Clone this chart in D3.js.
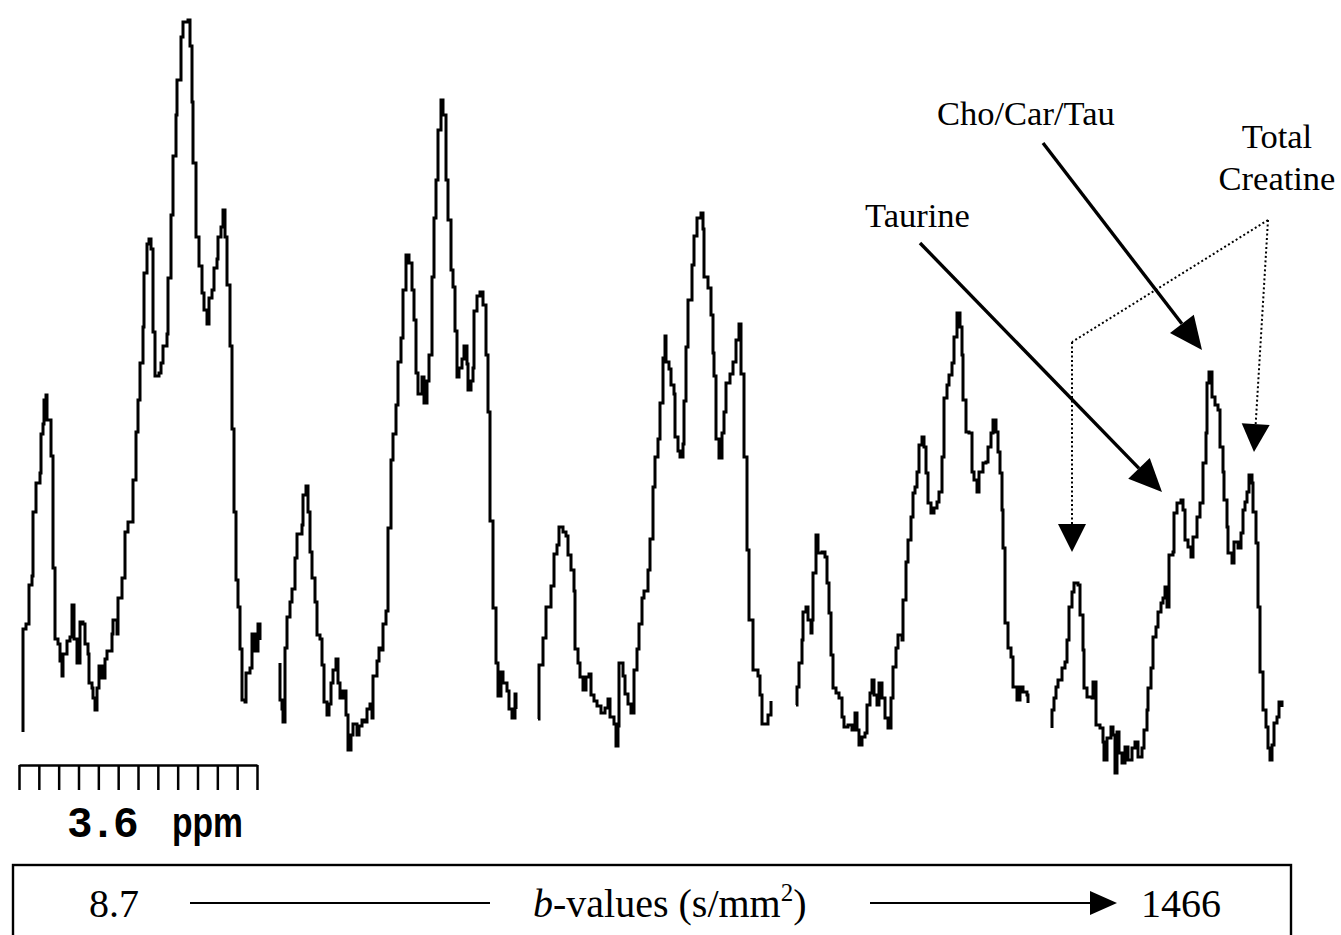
<!DOCTYPE html>
<html>
<head>
<meta charset="utf-8">
<script src="https://cdn.jsdelivr.net/npm/d3@7"></script>
<style>
body { margin: 0; background: #fff; }
svg { display: block; }
.spec { fill: none; stroke: #000; stroke-width: 3; }
.lbl { font-family: "Liberation Serif", "Times New Roman", serif; font-size: 34.5px; fill: #000; }
.box { font-family: "Liberation Serif", "Times New Roman", serif; font-size: 40px; fill: #000; }
.ppm { font-family: "Liberation Sans", Arial, sans-serif; font-weight: bold; font-size: 43px; fill: #000; }
.scale path, .scale line { stroke: #000; stroke-width: 2.5; }
</style>
</head>
<body>
<svg width="1341" height="935"></svg>
<script>
// five spectra, b = 8.7 ... 1466 s/mm2
var spectra = [ "b1", "b2", "b3", "b4", "b5" ];
var bLabels = [ "8.7", "1466" ];
var ppmTicks = [ 0, 1, 2, 3, 4, 5, 6, 7, 8, 9, 10, 11, 12 ];

// [point, intensity]
var spec1 = [ [0,48],[0,151],[3,156],[6,195],[9,204],[10,268],[13,297],[17,307],[18,346],[20,356],[21,380],[23,385],[24,360],[28,324],[30,212],[32,141],[35,136],[37,119],[39,104],[40,126],[44,139],[47,143],[49,175],[51,141],[54,117],[57,158],[60,156],[62,136],[65,126],[66,97],[69,92],[70,82],[72,70],[74,92],[76,114],[79,102],[82,121],[84,129],[89,146],[90,160],[94,146],[95,182],[99,202],[102,248],[105,258],[110,300],[113,348],[115,380],[117,417],[120,453],[121,507],[124,536],[126,541],[128,531],[130,524],[130,448],[132,404],[136,407],[138,417],[140,434],[144,446],[145,502],[148,565],[150,624],[153,665],[154,700],[158,743],[160,758],[165,760],[167,734],[169,678],[170,617],[173,543],[176,514],[179,487],[181,470],[184,456],[186,482],[189,490],[191,512],[194,521],[195,543],[198,553],[200,570],[202,543],[204,495],[207,434],[209,351],[211,268],[213,200],[215,173],[217,131],[219,80],[222,78],[223,107],[227,112],[229,146],[232,129],[235,156],[237,140] ];
var spec2 = [ [0,117],[0,80],[2,71],[3,58],[5,132],[7,163],[10,178],[12,191],[15,222],[17,246],[22,255],[23,285],[26,294],[28,268],[30,228],[32,202],[35,178],[37,145],[40,141],[42,115],[44,78],[47,65],[49,76],[51,97],[53,110],[56,121],[58,97],[60,82],[63,89],[66,65],[68,30],[71,45],[73,56],[77,45],[79,54],[82,60],[85,58],[87,71],[90,76],[92,62],[93,104],[97,119],[99,132],[102,130],[103,156],[106,169],[108,252],[111,320],[113,346],[116,375],[118,418],[121,442],[123,490],[126,525],[129,517],[132,490],[134,460],[136,407],[138,386],[142,403],[144,377],[147,399],[149,425],[152,503],[154,562],[156,600],[158,650],[161,680],[163,665],[166,600],[168,560],[171,510],[173,493],[175,449],[177,403],[179,412],[182,421],[184,434],[187,416],[188,390],[191,399],[193,412],[194,469],[197,484],[200,488],[203,475],[206,425],[208,368],[210,259],[213,172],[216,117],[218,84],[221,108],[223,97],[227,89],[229,71],[232,62],[235,86],[236,71] ];
var spec3 = [ [0,61],[1,115],[5,142],[8,173],[13,194],[16,226],[19,235],[21,253],[25,248],[28,244],[30,225],[33,210],[36,189],[37,131],[40,117],[42,103],[45,90],[48,103],[51,106],[53,85],[56,79],[59,74],[63,67],[67,72],[70,81],[72,63],[76,56],[78,34],[80,54],[81,117],[85,104],[87,86],[90,76],[93,67],[96,110],[99,131],[101,156],[104,182],[106,189],[110,210],[112,241],[115,293],[117,323],[120,341],[122,377],[125,422],[127,444],[128,418],[131,411],[133,395],[136,386],[137,343],[140,329],[142,323],[145,336],[146,379],[148,433],[150,480],[154,515],[156,544],[159,562],[163,567],[165,551],[166,503],[170,492],[173,465],[175,427],[176,404],[178,341],[181,322],[184,347],[186,368],[188,397],[192,406],[195,418],[198,440],[201,456],[203,406],[206,323],[209,230],[211,160],[215,110],[220,104],[222,85],[224,56],[228,56],[230,65],[233,79] ];
var spec4 = [ [1,75],[2,93],[4,117],[7,140],[8,168],[11,173],[13,160],[16,147],[17,160],[18,207],[21,245],[23,227],[27,228],[30,223],[32,197],[34,167],[36,125],[38,92],[41,87],[44,82],[47,63],[49,53],[53,55],[57,50],[60,67],[62,50],[64,35],[67,43],[70,47],[72,75],[75,87],[77,100],[79,85],[82,75],[84,97],[87,82],[90,62],[93,52],[96,82],[98,113],[101,132],[103,145],[107,140],[108,180],[111,218],[113,240],[116,263],[118,287],[120,293],[122,308],[124,335],[127,343],[129,333],[131,307],[133,277],[136,267],[139,272],[142,278],[144,288],[147,323],[149,382],[152,395],[154,405],[157,417],[159,443],[162,467],[165,453],[167,425],[168,380],[171,348],[174,347],[177,308],[179,300],[182,288],[184,308],[188,317],[191,318],[193,333],[196,347],[198,360],[201,348],[203,328],[205,307],[207,270],[208,232],[210,157],[213,132],[216,123],[218,93],[222,80],[225,93],[228,88],[232,85],[233,77] ];
var spec5 = [ [0,52],[0,70],[2,82],[4,93],[6,100],[10,112],[13,118],[15,140],[17,173],[20,188],[22,197],[26,195],[28,165],[31,130],[32,92],[35,83],[40,82],[41,98],[44,55],[48,52],[51,38],[52,20],[55,42],[59,53],[61,45],[63,7],[65,48],[67,27],[70,17],[73,33],[76,20],[80,32],[83,38],[86,23],[90,32],[92,50],[95,70],[96,92],[99,112],[101,143],[104,153],[106,168],[109,177],[111,182],[113,193],[115,173],[117,225],[121,228],[122,267],[125,277],[129,280],[131,270],[133,240],[136,233],[139,223],[141,243],[145,263],[148,277],[151,283],[151,317],[154,347],[155,397],[157,408],[160,383],[163,375],[166,370],[168,333],[171,308],[172,280],[175,253],[176,227],[180,217],[182,238],[186,232],[189,247],[191,270],[193,278],[195,288],[197,305],[200,297],[201,268],[204,237],[206,173],[208,108],[211,70],[214,53],[216,32],[218,20],[220,35],[222,57],[225,63],[227,78],[230,73] ];
var data = [ spec1, spec2, spec3, spec4, spec5 ];

var svg = d3.select("svg");
var xPos = d3.scalePoint().domain(spectra).range([ 23, 1052 ]);
var xLocal = d3.scaleLinear().domain([ 0, 240 ]).range([ 0, 240 ]);
var yScale = d3.scaleLinear().domain([ 0, 760 ]).range([ 780, 20 ]);

var line = d3.line().curve(d3.curveStepAfter).x(function(d) {
	return xLocal(d[0]);
}).y(function(d) {
	return yScale(d[1]);
});

var specG = svg.append("g").selectAll("g").data(data).enter().append("g")
		.attr("transform", function(d, i) {
			return "translate(" + Math.round(xPos(spectra[i])) + ",0)";
		});
specG.append("path").attr("class", "spec").attr("d", line);

// annotations, tips placed on the last spectrum
function pt(s, x, v) {
	return [ Math.round(xPos(s)) + xLocal(x), yScale(v) ];
}
function head(tip, from, len, half) {
	var dx = tip[0] - from[0], dy = tip[1] - from[1], L = Math.hypot(dx, dy);
	var ux = dx / L, uy = dy / L;
	var bx = tip[0] - ux * len, by = tip[1] - uy * len;
	return {
		base : [ bx, by ],
		d : "M" + tip[0] + "," + tip[1] + "L" + (bx - uy * half) + "," + (by + ux * half)
				+ "L" + (bx + uy * half) + "," + (by - ux * half) + "Z"
	};
}
var ann = svg.append("g");
function arrow(from, tip, dash) {
	var h = head(tip, from, dash ? 28 : 33, dash ? 14 : 15);
	ann.append("line").attr("x1", from[0]).attr("y1", from[1]).attr("x2", h.base[0])
			.attr("y2", h.base[1]).attr("stroke", "#000")
			.attr("stroke-width", dash ? 2 : 3.4)
			.attr("stroke-dasharray", dash ? "2,2.5" : null);
	ann.append("path").attr("d", h.d).attr("fill", "#000");
}
arrow([ 1043, 143 ], pt("b5", 150, 430), false);
arrow([ 920, 243 ], pt("b5", 110, 288), false);
var joint = [ 1268, 220 ], corner = [ 1072, 342 ];
ann.append("line").attr("x1", joint[0]).attr("y1", joint[1]).attr("x2", corner[0])
		.attr("y2", corner[1]).attr("stroke", "#000").attr("stroke-width", 2)
		.attr("stroke-dasharray", "2,2.5");
arrow(corner, pt("b5", 20, 228), true);
arrow(joint, pt("b5", 202, 328), true);

ann.append("text").attr("class", "lbl").attr("x", 937).attr("y", 125).text("Cho/Car/Tau");
ann.append("text").attr("class", "lbl").attr("x", 865).attr("y", 227).text("Taurine");
ann.append("text").attr("class", "lbl").attr("x", 1277).attr("y", 148)
		.attr("text-anchor", "middle").text("Total");
ann.append("text").attr("class", "lbl").attr("x", 1277).attr("y", 190)
		.attr("text-anchor", "middle").text("Creatine");

// ppm scale bar
var ppm = d3.scaleLinear().domain([ 0, 12 ]).range([ 19, 257 ]);
svg.append("g").attr("class", "scale").attr("transform", "translate(0,765)")
		.call(d3.axisBottom(ppm).tickValues(ppmTicks).tickSize(25).tickSizeOuter(0)
				.tickFormat(""));
svg.append("text").attr("class", "ppm").attr("x", 68).attr("y", 837)
		.attr("textLength", 70).attr("lengthAdjust", "spacing").text("3.6");
svg.append("text").attr("class", "ppm").attr("x", 172).attr("y", 837)
		.attr("textLength", 71).attr("lengthAdjust", "spacingAndGlyphs").text("ppm");

// b-value box
svg.append("rect").attr("x", 13).attr("y", 865).attr("width", 1278).attr("height", 120)
		.attr("fill", "none").attr("stroke", "#000").attr("stroke-width", 2.4);
svg.append("text").attr("class", "box").attr("x", 89).attr("y", 917).text(bLabels[0]);
svg.append("line").attr("x1", 190).attr("x2", 490).attr("y1", 903).attr("y2", 903)
		.attr("stroke", "#000").attr("stroke-width", 2.2);
var bt = svg.append("text").attr("class", "box").attr("x", 533).attr("y", 917);
bt.append("tspan").style("font-style", "italic").text("b");
bt.append("tspan").text("-values (s/mm");
bt.append("tspan").attr("dy", -16).style("font-size", "25px").text("2");
bt.append("tspan").attr("dy", 16).text(")");
svg.append("line").attr("x1", 870).attr("x2", 1092).attr("y1", 903).attr("y2", 903)
		.attr("stroke", "#000").attr("stroke-width", 2.2);
svg.append("path").attr("d", head([ 1117, 903 ], [ 870, 903 ], 27, 12).d).attr("fill", "#000");
svg.append("text").attr("class", "box").attr("x", 1141).attr("y", 917).text(bLabels[1]);
</script>
</body>
</html>
